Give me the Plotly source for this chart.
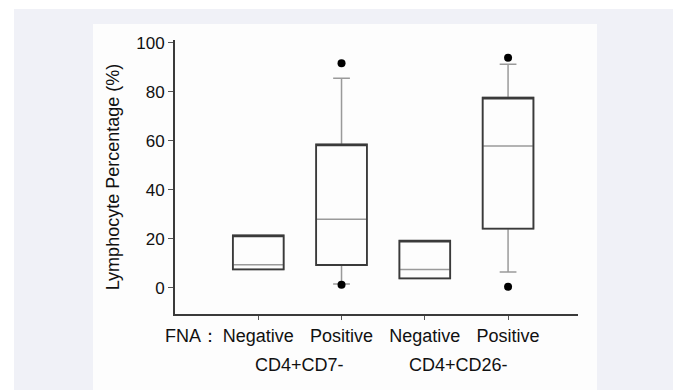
import plotly.graph_objects as go

# ---- data ----
groups = ["Negative", "Positive", "Negative", "Positive"]
positions = [0, 1, 2, 3]
q1 = [7.5, 9.3, 3.8, 24.1]
median = [9.4, 28.0, 7.5, 57.8]
q3 = [21.4, 58.5, 19.2, 77.6]
lowerfence = [7.5, 1.5, 3.8, 6.4]
upperfence = [21.4, 85.5, 19.2, 91.2]
outlier_x = [1, 1, 3, 3]
outlier_y = [91.6, 1.2, 93.9, 0.4]
y_ticks = [0, 20, 40, 60, 80, 100]
marker_labels = ["CD4+CD7-", "CD4+CD26-"]

OFF = 8  # page body margin offset
W, H = 681, 390
L, R, T, B = 175 - OFF, 103 + OFF, 40 - OFF, 76 + OFF
pw, ph = W - L - R, H - T - B


def px(x):
    return (x - OFF - L) / pw


def py(y):
    return (H - B - (y - OFF)) / ph


fig = go.Figure()

# gray whiskers + gray median
fig.add_trace(go.Box(
    x=positions, q1=q1, median=median, q3=q3,
    lowerfence=lowerfence, upperfence=upperfence,
    boxpoints=False, width=0.61, whiskerwidth=0.33,
    line=dict(color="#9a9a9a", width=1.5),
    fillcolor="rgba(0,0,0,0)", showlegend=False, hoverinfo="skip",
))
# dark box outline overlay (median placed on q3, fences at box edges)
fig.add_trace(go.Box(
    x=positions, q1=q1, median=q3, q3=q3,
    lowerfence=q1, upperfence=q3,
    boxpoints=False, width=0.61, whiskerwidth=0,
    line=dict(color="#3a3a3a", width=1.8),
    fillcolor="rgba(0,0,0,0)", showlegend=False, hoverinfo="skip",
))
fig.add_trace(go.Scatter(
    x=outlier_x, y=outlier_y, mode="markers",
    marker=dict(color="black", size=8), showlegend=False, hoverinfo="skip",
))

shapes = [
    dict(type="rect", xref="paper", yref="paper", x0=px(14), x1=px(675),
         y0=py(9), y1=py(400), fillcolor="#f0f1f7", line=dict(width=0), layer="below"),
    dict(type="line", xref="paper", yref="paper", x0=px(675.5), x1=px(675.5),
         y0=py(9), y1=py(400), line=dict(color="#8a8a8a", width=1.5), layer="below"),
    dict(type="rect", xref="paper", yref="paper", x0=px(93), x1=px(597),
         y0=py(24), y1=py(400), fillcolor="#fdfdfd", line=dict(width=0), layer="below"),
]

annotations = [
    dict(text="FNA：", xref="paper", yref="paper", x=px(221), y=py(336),
         xanchor="right", yanchor="middle", showarrow=False,
         font=dict(size=18, color="#111")),
    dict(text=marker_labels[0], xref="x", yref="paper", x=0.5, y=py(365),
         xanchor="center", yanchor="middle", showarrow=False,
         font=dict(size=18, color="#111")),
    dict(text=marker_labels[1], xref="x", yref="paper", x=2.4, y=py(365),
         xanchor="center", yanchor="middle", showarrow=False,
         font=dict(size=18, color="#111")),
]

fig.update_layout(
    width=W, height=H,
    margin=dict(l=L, r=R, t=T, b=B, pad=0),
    paper_bgcolor="white", plot_bgcolor="rgba(0,0,0,0)",
    font=dict(family="Liberation Sans, Arial", color="#111"),
    boxmode="overlay",
    shapes=shapes, annotations=annotations,
    xaxis=dict(range=[-1, 3.84], tickvals=positions, ticktext=groups,
               showgrid=False, zeroline=False, showline=True,
               linecolor="#3a3a3a", linewidth=2, ticks="outside",
               ticklen=4, tickcolor="#555", tickwidth=1,
               tickfont=dict(size=18, color="#111")),
    yaxis=dict(range=[-10.7, 101.1], tickvals=y_ticks,
               showgrid=False, zeroline=False, showline=True,
               linecolor="#3a3a3a", linewidth=2, ticks="outside",
               ticklen=5, tickcolor="#555", tickwidth=1,
               tickfont=dict(size=17, color="#111"),
               title=dict(text="Lymphocyte Percentage (%)", standoff=12,
                          font=dict(size=18, color="#111"))),
)

fig.write_html("out.html")
